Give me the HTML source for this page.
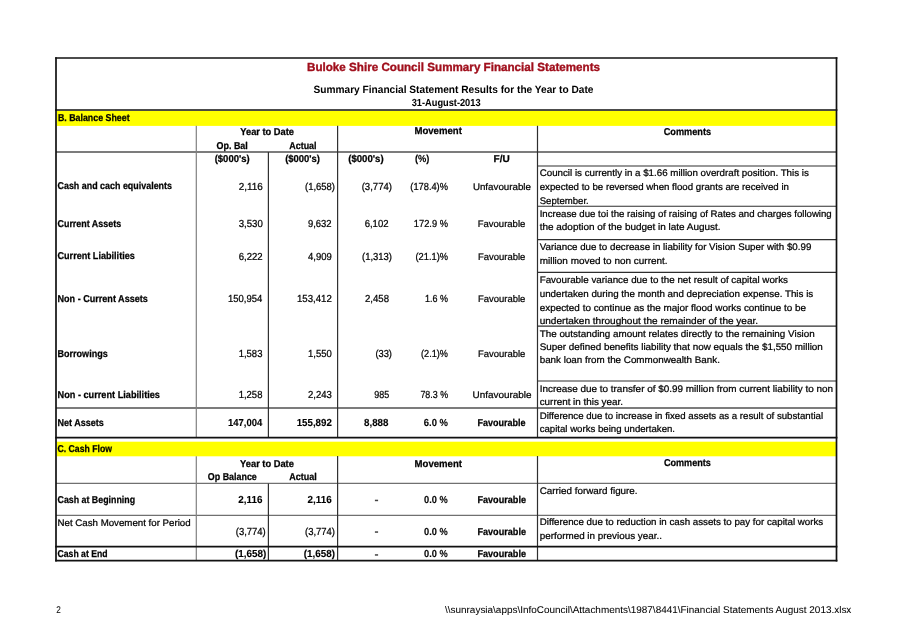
<!DOCTYPE html>
<html><head><meta charset="utf-8"><title>Buloke Shire Council Summary Financial Statements</title>
<style>
html,body{margin:0;padding:0;background:#fff;}
body{width:907px;height:641px;overflow:hidden;position:relative;font-family:"Liberation Sans",sans-serif;}
svg{position:absolute;left:0;top:0;display:block;filter:blur(0.35px);}
svg text{font-family:"Liberation Sans",sans-serif;white-space:pre;text-rendering:geometricPrecision;}
</style></head><body>
<svg width="907" height="641" viewBox="0 0 907 641">
<rect x="56.8" y="110.8" width="779.1" height="15.1" fill="#ffff00"/>
<rect x="56.8" y="441.7" width="779.1" height="14.6" fill="#ffff00"/>
<rect x="374.9" y="499.70" width="3.20" height="1.5" fill="#444"/>
<rect x="374.9" y="531.30" width="3.20" height="1.5" fill="#444"/>
<rect x="374.9" y="554.20" width="3.20" height="1.5" fill="#444"/>
<line x1="56" y1="152" x2="836.5" y2="152" stroke="#505050" stroke-width="1.35"/>
<line x1="537.5" y1="166" x2="836.5" y2="166" stroke="#2e2e2e" stroke-width="1.15"/>
<line x1="537.5" y1="206.2" x2="836.5" y2="206.2" stroke="#2e2e2e" stroke-width="1.15"/>
<line x1="537.5" y1="239.6" x2="836.5" y2="239.6" stroke="#2e2e2e" stroke-width="1.15"/>
<line x1="537.5" y1="272.4" x2="836.5" y2="272.4" stroke="#2e2e2e" stroke-width="1.15"/>
<line x1="537.5" y1="326.1" x2="836.5" y2="326.1" stroke="#2e2e2e" stroke-width="1.15"/>
<line x1="537.5" y1="381.0" x2="836.5" y2="381.0" stroke="#2e2e2e" stroke-width="1.15"/>
<line x1="56" y1="408" x2="836.5" y2="408" stroke="#505050" stroke-width="1.3"/>
<line x1="56" y1="483.4" x2="836.5" y2="483.4" stroke="#707070" stroke-width="1.3"/>
<line x1="56" y1="515.3" x2="836.5" y2="515.3" stroke="#707070" stroke-width="1.3"/>
<line x1="196.3" y1="125.8" x2="196.3" y2="437.6" stroke="#808080" stroke-width="1.2"/>
<line x1="196.3" y1="456.2" x2="196.3" y2="560.4" stroke="#808080" stroke-width="1.2"/>
<line x1="268.4" y1="152" x2="268.4" y2="437.6" stroke="#303030" stroke-width="1.2"/>
<line x1="268.4" y1="483.5" x2="268.4" y2="560.4" stroke="#303030" stroke-width="1.2"/>
<line x1="337.6" y1="125.8" x2="337.6" y2="437.6" stroke="#303030" stroke-width="1.2"/>
<line x1="337.6" y1="456" x2="337.6" y2="560.4" stroke="#303030" stroke-width="1.2"/>
<line x1="537.5" y1="125.8" x2="537.5" y2="437.6" stroke="#2e2e2e" stroke-width="1.2"/>
<line x1="537.5" y1="456" x2="537.5" y2="560.4" stroke="#2e2e2e" stroke-width="1.2"/>
<line x1="55.2" y1="58.0" x2="837.4" y2="58.0" stroke="#111" stroke-width="1.7"/>
<line x1="55.2" y1="110.0" x2="837.4" y2="110.0" stroke="#111" stroke-width="1.7"/>
<line x1="55.2" y1="437.6" x2="837.4" y2="437.6" stroke="#111" stroke-width="1.7"/>
<line x1="55.2" y1="546.6" x2="837.4" y2="546.6" stroke="#111" stroke-width="1.7"/>
<line x1="55.2" y1="560.6" x2="837.4" y2="560.6" stroke="#111" stroke-width="1.7"/>
<line x1="56.0" y1="57.2" x2="56.0" y2="561.4" stroke="#111" stroke-width="1.7"/>
<line x1="836.5" y1="57.2" x2="836.5" y2="561.4" stroke="#111" stroke-width="1.7"/>
<text x="307.00" y="70.60" font-size="11.8" font-weight="bold" fill="#a00f1c" stroke="#a00f1c" stroke-width="0.35" textLength="293.02" lengthAdjust="spacingAndGlyphs">Buloke Shire Council Summary Financial Statements</text>
<text x="313.50" y="92.60" font-size="10.6" font-weight="bold" fill="#000" stroke="#000" stroke-width="0.0" textLength="280.00" lengthAdjust="spacingAndGlyphs">Summary Financial Statement Results for the Year to Date</text>
<text x="411.70" y="106.00" font-size="10.2" font-weight="bold" fill="#000" stroke="#000" stroke-width="0.05" textLength="68.86" lengthAdjust="spacingAndGlyphs">31-August-2013</text>
<text x="57.90" y="121.30" font-size="10.0" font-weight="bold" fill="#000" stroke="#000" stroke-width="0.25" textLength="71.73" lengthAdjust="spacingAndGlyphs">B. Balance Sheet</text>
<text x="240.30" y="134.50" font-size="10.0" font-weight="bold" fill="#000" stroke="#000" stroke-width="0.25" textLength="53.70" lengthAdjust="spacingAndGlyphs">Year to Date</text>
<text x="216.50" y="148.60" font-size="10.0" font-weight="bold" fill="#000" stroke="#000" stroke-width="0.25" textLength="31.30" lengthAdjust="spacingAndGlyphs">Op. Bal</text>
<text x="289.30" y="148.60" font-size="10.0" font-weight="bold" fill="#000" stroke="#000" stroke-width="0.25" textLength="27.26" lengthAdjust="spacingAndGlyphs">Actual</text>
<text x="214.70" y="161.50" font-size="10.0" font-weight="bold" fill="#000" stroke="#000" stroke-width="0.25" textLength="34.94" lengthAdjust="spacingAndGlyphs">($000's)</text>
<text x="285.20" y="161.50" font-size="10.0" font-weight="bold" fill="#000" stroke="#000" stroke-width="0.25" textLength="34.84" lengthAdjust="spacingAndGlyphs">($000's)</text>
<text x="348.20" y="161.50" font-size="10.0" font-weight="bold" fill="#000" stroke="#000" stroke-width="0.25" textLength="35.44" lengthAdjust="spacingAndGlyphs">($000's)</text>
<text x="414.90" y="161.50" font-size="10.2" font-weight="bold" fill="#000" stroke="#000" stroke-width="0.12" textLength="14.45" lengthAdjust="spacingAndGlyphs">(%)</text>
<text x="493.60" y="161.50" font-size="10.0" font-weight="bold" fill="#000" stroke="#000" stroke-width="0.25" textLength="16.21" lengthAdjust="spacingAndGlyphs">F/U</text>
<text x="414.40" y="134.40" font-size="10.0" font-weight="bold" fill="#000" stroke="#000" stroke-width="0.25" textLength="47.45" lengthAdjust="spacingAndGlyphs">Movement</text>
<text x="663.70" y="134.70" font-size="10.0" font-weight="bold" fill="#000" stroke="#000" stroke-width="0.25" textLength="47.38" lengthAdjust="spacingAndGlyphs">Comments</text>
<text x="57.50" y="189.40" font-size="10.0" font-weight="bold" fill="#000" stroke="#000" stroke-width="0.25" textLength="114.47" lengthAdjust="spacingAndGlyphs">Cash and cach equivalents</text>
<text x="57.50" y="226.70" font-size="10.0" font-weight="bold" fill="#000" stroke="#000" stroke-width="0.25" textLength="63.61" lengthAdjust="spacingAndGlyphs">Current Assets</text>
<text x="57.50" y="259.40" font-size="10.0" font-weight="bold" fill="#000" stroke="#000" stroke-width="0.25" textLength="77.31" lengthAdjust="spacingAndGlyphs">Current Liabilities</text>
<text x="57.50" y="302.40" font-size="10.0" font-weight="bold" fill="#000" stroke="#000" stroke-width="0.25" textLength="90.34" lengthAdjust="spacingAndGlyphs">Non - Current Assets</text>
<text x="57.50" y="356.80" font-size="10.0" font-weight="bold" fill="#000" stroke="#000" stroke-width="0.25" textLength="50.26" lengthAdjust="spacingAndGlyphs">Borrowings</text>
<text x="57.50" y="397.60" font-size="10.0" font-weight="bold" fill="#000" stroke="#000" stroke-width="0.25" textLength="102.47" lengthAdjust="spacingAndGlyphs">Non - current Liabilities</text>
<text x="57.50" y="426.00" font-size="10.0" font-weight="bold" fill="#000" stroke="#000" stroke-width="0.25" textLength="46.31" lengthAdjust="spacingAndGlyphs">Net Assets</text>
<text x="238.70" y="189.60" font-size="10.2" font-weight="normal" fill="#000" stroke="#000" stroke-width="0.24" textLength="24.08" lengthAdjust="spacingAndGlyphs">2,116</text>
<text x="305.00" y="189.60" font-size="10.2" font-weight="normal" fill="#000" stroke="#000" stroke-width="0.24" textLength="29.98" lengthAdjust="spacingAndGlyphs">(1,658)</text>
<text x="361.70" y="189.60" font-size="10.2" font-weight="normal" fill="#000" stroke="#000" stroke-width="0.24" textLength="30.28" lengthAdjust="spacingAndGlyphs">(3,774)</text>
<text x="410.30" y="189.60" font-size="10.2" font-weight="normal" fill="#000" stroke="#000" stroke-width="0.24" textLength="37.68" lengthAdjust="spacingAndGlyphs">(178.4)%</text>
<text x="472.90" y="189.60" font-size="9.5" font-weight="normal" fill="#000" stroke="#000" stroke-width="0.24" textLength="58.08" lengthAdjust="spacingAndGlyphs">Unfavourable</text>
<text x="238.70" y="226.80" font-size="10.2" font-weight="normal" fill="#000" stroke="#000" stroke-width="0.24" textLength="24.12" lengthAdjust="spacingAndGlyphs">3,530</text>
<text x="308.00" y="226.80" font-size="10.2" font-weight="normal" fill="#000" stroke="#000" stroke-width="0.24" textLength="23.62" lengthAdjust="spacingAndGlyphs">9,632</text>
<text x="364.70" y="226.80" font-size="10.2" font-weight="normal" fill="#000" stroke="#000" stroke-width="0.24" textLength="23.82" lengthAdjust="spacingAndGlyphs">6,102</text>
<text x="413.80" y="226.80" font-size="10.2" font-weight="normal" fill="#000" stroke="#000" stroke-width="0.24" textLength="34.19" lengthAdjust="spacingAndGlyphs">172.9 %</text>
<text x="477.70" y="226.80" font-size="9.5" font-weight="normal" fill="#000" stroke="#000" stroke-width="0.24" textLength="47.62" lengthAdjust="spacingAndGlyphs">Favourable</text>
<text x="238.70" y="259.50" font-size="10.2" font-weight="normal" fill="#000" stroke="#000" stroke-width="0.24" textLength="23.92" lengthAdjust="spacingAndGlyphs">6,222</text>
<text x="308.00" y="259.50" font-size="10.2" font-weight="normal" fill="#000" stroke="#000" stroke-width="0.24" textLength="23.82" lengthAdjust="spacingAndGlyphs">4,909</text>
<text x="362.00" y="259.50" font-size="10.2" font-weight="normal" fill="#000" stroke="#000" stroke-width="0.24" textLength="29.98" lengthAdjust="spacingAndGlyphs">(1,313)</text>
<text x="415.50" y="259.50" font-size="10.2" font-weight="normal" fill="#000" stroke="#000" stroke-width="0.24" textLength="32.51" lengthAdjust="spacingAndGlyphs">(21.1)%</text>
<text x="478.00" y="259.50" font-size="9.5" font-weight="normal" fill="#000" stroke="#000" stroke-width="0.24" textLength="47.32" lengthAdjust="spacingAndGlyphs">Favourable</text>
<text x="228.00" y="302.30" font-size="10.2" font-weight="normal" fill="#000" stroke="#000" stroke-width="0.24" textLength="34.24" lengthAdjust="spacingAndGlyphs">150,954</text>
<text x="297.00" y="302.30" font-size="10.2" font-weight="normal" fill="#000" stroke="#000" stroke-width="0.24" textLength="34.84" lengthAdjust="spacingAndGlyphs">153,412</text>
<text x="365.00" y="302.30" font-size="10.2" font-weight="normal" fill="#000" stroke="#000" stroke-width="0.24" textLength="24.02" lengthAdjust="spacingAndGlyphs">2,458</text>
<text x="425.00" y="302.30" font-size="10.2" font-weight="normal" fill="#000" stroke="#000" stroke-width="0.24" textLength="22.97" lengthAdjust="spacingAndGlyphs">1.6 %</text>
<text x="478.00" y="302.30" font-size="9.5" font-weight="normal" fill="#000" stroke="#000" stroke-width="0.24" textLength="47.32" lengthAdjust="spacingAndGlyphs">Favourable</text>
<text x="238.70" y="356.90" font-size="10.2" font-weight="normal" fill="#000" stroke="#000" stroke-width="0.24" textLength="23.72" lengthAdjust="spacingAndGlyphs">1,583</text>
<text x="308.00" y="356.90" font-size="10.2" font-weight="normal" fill="#000" stroke="#000" stroke-width="0.24" textLength="23.82" lengthAdjust="spacingAndGlyphs">1,550</text>
<text x="375.40" y="356.90" font-size="10.2" font-weight="normal" fill="#000" stroke="#000" stroke-width="0.24" textLength="16.58" lengthAdjust="spacingAndGlyphs">(33)</text>
<text x="421.00" y="356.90" font-size="10.2" font-weight="normal" fill="#000" stroke="#000" stroke-width="0.24" textLength="26.96" lengthAdjust="spacingAndGlyphs">(2.1)%</text>
<text x="478.00" y="356.90" font-size="9.5" font-weight="normal" fill="#000" stroke="#000" stroke-width="0.24" textLength="47.32" lengthAdjust="spacingAndGlyphs">Favourable</text>
<text x="238.70" y="397.70" font-size="10.2" font-weight="normal" fill="#000" stroke="#000" stroke-width="0.24" textLength="23.72" lengthAdjust="spacingAndGlyphs">1,258</text>
<text x="308.00" y="397.70" font-size="10.2" font-weight="normal" fill="#000" stroke="#000" stroke-width="0.24" textLength="23.82" lengthAdjust="spacingAndGlyphs">2,243</text>
<text x="374.30" y="397.70" font-size="10.2" font-weight="normal" fill="#000" stroke="#000" stroke-width="0.24" textLength="14.98" lengthAdjust="spacingAndGlyphs">985</text>
<text x="420.40" y="397.70" font-size="10.2" font-weight="normal" fill="#000" stroke="#000" stroke-width="0.24" textLength="27.63" lengthAdjust="spacingAndGlyphs">78.3 %</text>
<text x="472.50" y="397.70" font-size="9.5" font-weight="normal" fill="#000" stroke="#000" stroke-width="0.24" textLength="58.98" lengthAdjust="spacingAndGlyphs">Unfavourable</text>
<text x="228.00" y="425.80" font-size="10.2" font-weight="bold" fill="#000" stroke="#000" stroke-width="0.12" textLength="34.35" lengthAdjust="spacingAndGlyphs">147,004</text>
<text x="296.70" y="425.80" font-size="10.2" font-weight="bold" fill="#000" stroke="#000" stroke-width="0.12" textLength="35.14" lengthAdjust="spacingAndGlyphs">155,892</text>
<text x="364.00" y="425.80" font-size="10.2" font-weight="bold" fill="#000" stroke="#000" stroke-width="0.12" textLength="24.42" lengthAdjust="spacingAndGlyphs">8,888</text>
<text x="423.80" y="425.80" font-size="10.2" font-weight="bold" fill="#000" stroke="#000" stroke-width="0.12" textLength="24.17" lengthAdjust="spacingAndGlyphs">6.0 %</text>
<text x="477.40" y="425.80" font-size="10.0" font-weight="bold" fill="#000" stroke="#000" stroke-width="0.25" textLength="48.14" lengthAdjust="spacingAndGlyphs">Favourable</text>
<text x="539.70" y="176.20" font-size="9.5" font-weight="normal" fill="#000" stroke="#000" stroke-width="0.24" textLength="269.13" lengthAdjust="spacingAndGlyphs">Council is currently in a $1.66 million overdraft position. This is</text>
<text x="539.70" y="190.00" font-size="9.5" font-weight="normal" fill="#000" stroke="#000" stroke-width="0.24" textLength="249.26" lengthAdjust="spacingAndGlyphs">expected to be reversed when flood grants are received in</text>
<text x="539.70" y="203.70" font-size="9.5" font-weight="normal" fill="#000" stroke="#000" stroke-width="0.24" textLength="49.04" lengthAdjust="spacingAndGlyphs">September.</text>
<text x="539.70" y="216.80" font-size="9.5" font-weight="normal" fill="#000" stroke="#000" stroke-width="0.24" textLength="292.03" lengthAdjust="spacingAndGlyphs">Increase due toi the raising of raising of Rates and charges following</text>
<text x="539.70" y="230.20" font-size="9.5" font-weight="normal" fill="#000" stroke="#000" stroke-width="0.24" textLength="180.90" lengthAdjust="spacingAndGlyphs">the adoption of the budget in late August.</text>
<text x="539.70" y="249.50" font-size="9.5" font-weight="normal" fill="#000" stroke="#000" stroke-width="0.24" textLength="271.66" lengthAdjust="spacingAndGlyphs">Variance due to decrease in liability for Vision Super with $0.99</text>
<text x="539.70" y="263.60" font-size="9.5" font-weight="normal" fill="#000" stroke="#000" stroke-width="0.24" textLength="127.88" lengthAdjust="spacingAndGlyphs">million moved to non current.</text>
<text x="539.70" y="283.00" font-size="9.5" font-weight="normal" fill="#000" stroke="#000" stroke-width="0.24" textLength="248.25" lengthAdjust="spacingAndGlyphs">Favourable variance due to the net result of capital works</text>
<text x="539.70" y="296.70" font-size="9.5" font-weight="normal" fill="#000" stroke="#000" stroke-width="0.24" textLength="273.52" lengthAdjust="spacingAndGlyphs">undertaken during the month and depreciation expense. This is</text>
<text x="539.70" y="310.50" font-size="9.5" font-weight="normal" fill="#000" stroke="#000" stroke-width="0.24" textLength="266.43" lengthAdjust="spacingAndGlyphs">expected to continue as the major flood works continue to be</text>
<text x="539.70" y="323.70" font-size="9.5" font-weight="normal" fill="#000" stroke="#000" stroke-width="0.24" textLength="218.45" lengthAdjust="spacingAndGlyphs">undertaken throughout the remainder of the year.</text>
<text x="539.70" y="336.50" font-size="9.5" font-weight="normal" fill="#000" stroke="#000" stroke-width="0.24" textLength="275.00" lengthAdjust="spacingAndGlyphs">The outstanding amount relates directly to the remaining Vision</text>
<text x="539.70" y="349.90" font-size="9.5" font-weight="normal" fill="#000" stroke="#000" stroke-width="0.24" textLength="283.13" lengthAdjust="spacingAndGlyphs">Super defined benefits liability that now equals the $1,550 million</text>
<text x="539.70" y="363.00" font-size="9.5" font-weight="normal" fill="#000" stroke="#000" stroke-width="0.24" textLength="180.22" lengthAdjust="spacingAndGlyphs">bank loan from the Commonwealth Bank.</text>
<text x="539.70" y="392.00" font-size="9.5" font-weight="normal" fill="#000" stroke="#000" stroke-width="0.24" textLength="293.28" lengthAdjust="spacingAndGlyphs">Increase due to transfer of $0.99 million from current liability to non</text>
<text x="539.70" y="405.10" font-size="9.5" font-weight="normal" fill="#000" stroke="#000" stroke-width="0.24" textLength="83.28" lengthAdjust="spacingAndGlyphs">current in this year.</text>
<text x="539.70" y="418.60" font-size="9.5" font-weight="normal" fill="#000" stroke="#000" stroke-width="0.24" textLength="283.39" lengthAdjust="spacingAndGlyphs">Difference due to increase in fixed assets as a result of substantial</text>
<text x="539.70" y="431.70" font-size="9.5" font-weight="normal" fill="#000" stroke="#000" stroke-width="0.24" textLength="135.33" lengthAdjust="spacingAndGlyphs">capital works being undertaken.</text>
<text x="539.70" y="494.00" font-size="9.5" font-weight="normal" fill="#000" stroke="#000" stroke-width="0.24" textLength="97.88" lengthAdjust="spacingAndGlyphs">Carried forward figure.</text>
<text x="539.70" y="525.40" font-size="9.5" font-weight="normal" fill="#000" stroke="#000" stroke-width="0.24" textLength="283.56" lengthAdjust="spacingAndGlyphs">Difference due to reduction in cash assets to pay for capital works</text>
<text x="539.70" y="538.90" font-size="9.5" font-weight="normal" fill="#000" stroke="#000" stroke-width="0.24" textLength="122.24" lengthAdjust="spacingAndGlyphs">performed in previous year..</text>
<text x="57.50" y="452.40" font-size="10.0" font-weight="bold" fill="#000" stroke="#000" stroke-width="0.25" textLength="54.48" lengthAdjust="spacingAndGlyphs">C. Cash Flow</text>
<text x="240.10" y="466.50" font-size="10.0" font-weight="bold" fill="#000" stroke="#000" stroke-width="0.25" textLength="53.80" lengthAdjust="spacingAndGlyphs">Year to Date</text>
<text x="207.80" y="480.00" font-size="10.0" font-weight="bold" fill="#000" stroke="#000" stroke-width="0.25" textLength="49.01" lengthAdjust="spacingAndGlyphs">Op Balance</text>
<text x="289.20" y="480.00" font-size="10.0" font-weight="bold" fill="#000" stroke="#000" stroke-width="0.25" textLength="27.46" lengthAdjust="spacingAndGlyphs">Actual</text>
<text x="414.60" y="466.60" font-size="10.0" font-weight="bold" fill="#000" stroke="#000" stroke-width="0.25" textLength="47.35" lengthAdjust="spacingAndGlyphs">Movement</text>
<text x="663.90" y="466.40" font-size="10.0" font-weight="bold" fill="#000" stroke="#000" stroke-width="0.25" textLength="46.98" lengthAdjust="spacingAndGlyphs">Comments</text>
<text x="57.50" y="503.00" font-size="10.0" font-weight="bold" fill="#000" stroke="#000" stroke-width="0.25" textLength="77.58" lengthAdjust="spacingAndGlyphs">Cash at Beginning</text>
<text x="57.50" y="525.80" font-size="9.5" font-weight="normal" fill="#000" stroke="#000" stroke-width="0.24" textLength="133.17" lengthAdjust="spacingAndGlyphs">Net Cash Movement for Period</text>
<text x="57.50" y="557.00" font-size="10.0" font-weight="bold" fill="#000" stroke="#000" stroke-width="0.25" textLength="50.09" lengthAdjust="spacingAndGlyphs">Cash at End</text>
<text x="238.30" y="502.80" font-size="10.2" font-weight="bold" fill="#000" stroke="#000" stroke-width="0.12" textLength="24.07" lengthAdjust="spacingAndGlyphs">2,116</text>
<text x="307.50" y="502.80" font-size="10.2" font-weight="bold" fill="#000" stroke="#000" stroke-width="0.12" textLength="24.17" lengthAdjust="spacingAndGlyphs">2,116</text>
<text x="424.10" y="502.80" font-size="10.2" font-weight="bold" fill="#000" stroke="#000" stroke-width="0.12" textLength="23.67" lengthAdjust="spacingAndGlyphs">0.0 %</text>
<text x="477.40" y="502.80" font-size="10.0" font-weight="bold" fill="#000" stroke="#000" stroke-width="0.25" textLength="48.64" lengthAdjust="spacingAndGlyphs">Favourable</text>
<text x="235.80" y="534.60" font-size="10.2" font-weight="normal" fill="#000" stroke="#000" stroke-width="0.24" textLength="29.98" lengthAdjust="spacingAndGlyphs">(3,774)</text>
<text x="305.00" y="534.60" font-size="10.2" font-weight="normal" fill="#000" stroke="#000" stroke-width="0.24" textLength="29.98" lengthAdjust="spacingAndGlyphs">(3,774)</text>
<text x="424.10" y="534.60" font-size="10.2" font-weight="bold" fill="#000" stroke="#000" stroke-width="0.12" textLength="23.67" lengthAdjust="spacingAndGlyphs">0.0 %</text>
<text x="477.40" y="534.60" font-size="10.0" font-weight="bold" fill="#000" stroke="#000" stroke-width="0.25" textLength="48.64" lengthAdjust="spacingAndGlyphs">Favourable</text>
<text x="234.90" y="557.30" font-size="10.2" font-weight="bold" fill="#000" stroke="#000" stroke-width="0.12" textLength="31.38" lengthAdjust="spacingAndGlyphs">(1,658)</text>
<text x="303.80" y="557.30" font-size="10.2" font-weight="bold" fill="#000" stroke="#000" stroke-width="0.12" textLength="31.18" lengthAdjust="spacingAndGlyphs">(1,658)</text>
<text x="424.10" y="557.30" font-size="10.2" font-weight="bold" fill="#000" stroke="#000" stroke-width="0.12" textLength="23.67" lengthAdjust="spacingAndGlyphs">0.0 %</text>
<text x="477.40" y="557.30" font-size="10.0" font-weight="bold" fill="#000" stroke="#000" stroke-width="0.25" textLength="48.64" lengthAdjust="spacingAndGlyphs">Favourable</text>
<text x="56.20" y="612.60" font-size="9.8" font-weight="normal" fill="#000" stroke="#000" stroke-width="0.05" textLength="4.57" lengthAdjust="spacingAndGlyphs">2</text>
<text x="445.00" y="612.90" font-size="9.8" font-weight="normal" fill="#000" stroke="#000" stroke-width="0.05" textLength="406.35" lengthAdjust="spacingAndGlyphs">\\sunraysia\apps\InfoCouncil\Attachments\1987\8441\Financial Statements August 2013.xlsx</text>
</svg>
</body></html>
